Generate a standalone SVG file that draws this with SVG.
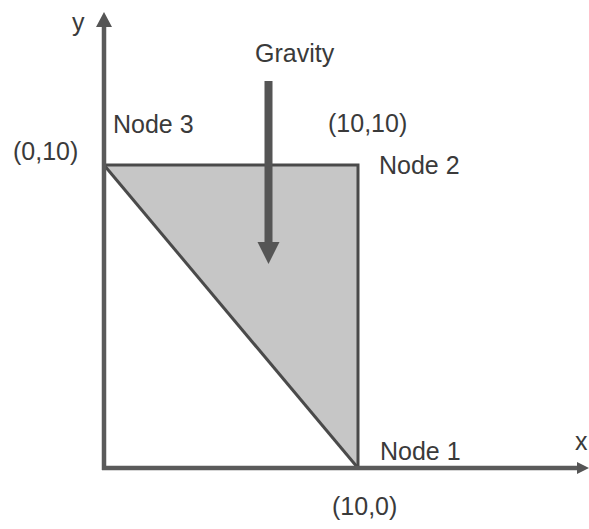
<svg xmlns="http://www.w3.org/2000/svg" width="589" height="529" viewBox="0 0 589 529">
<style>
  text { font-family: "Liberation Sans", Arial, sans-serif; font-size: 25px; fill: #3a3a3a; }
  .axis { stroke: #5a5a5a; stroke-width: 4.5; fill: none; }
  .edge { stroke: #4a4a4a; stroke-width: 3; fill: none; stroke-linejoin: miter; }
  .tri { fill: #c6c6c6; stroke: none; }
  .grav { stroke: #555; stroke-width: 8; fill: none; }
  .head { fill: #555; }
</style>
<rect width="589" height="529" fill="#ffffff"/>
<g id="element">
  <polygon class="tri" points="104,165 358,165 358,468"/>
  <polyline class="edge" points="104,165 358,165 358,468"/>
  <line class="edge" x1="104" y1="165" x2="358" y2="468"/>
</g>
<g id="connectors">
  <line class="axis" x1="104" y1="470" x2="104" y2="24"/>
  <polygon class="head" points="104,12 96,27 112,27"/>
  <line class="axis" x1="102" y1="468" x2="578" y2="468"/>
  <polygon class="head" points="589,468 577,462 577,474"/>
  <line class="grav" x1="268.5" y1="81" x2="268.5" y2="244"/>
  <polygon class="head" points="257.5,242 279.5,242 268.5,264"/>
</g>
<g id="labels">
  <text x="72" y="31">y</text>
  <text x="575" y="450">x</text>
  <text x="255" y="62">Gravity</text>
  <text x="113" y="133">Node 3</text>
  <text x="328" y="132">(10,10)</text>
  <text x="13" y="160">(0,10)</text>
  <text x="379" y="174">Node 2</text>
  <text x="380" y="460">Node 1</text>
  <text x="332" y="515">(10,0)</text>
</g>
</svg>
